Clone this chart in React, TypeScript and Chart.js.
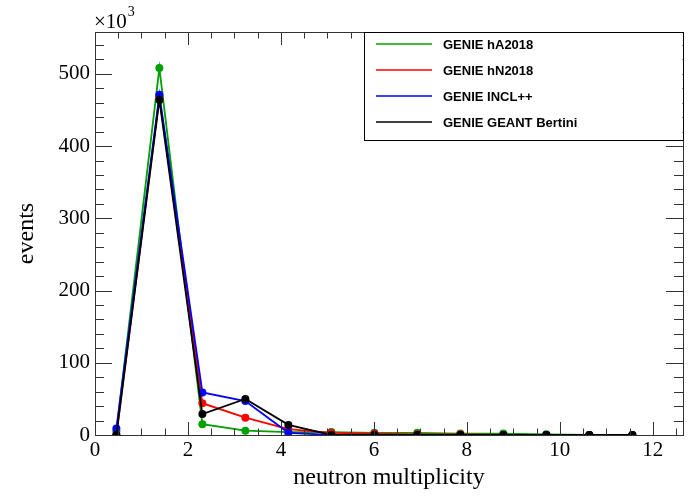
import { useEffect, useRef } from 'react';
import { Chart, registerables } from 'chart.js';

Chart.register(...registerables);

// neutron multiplicity bin centres
const binCenters = [0.46, 1.385, 2.31, 3.235, 4.16, 5.085, 6.01, 6.935, 7.86, 8.785, 9.71, 10.635, 11.56];
// events (x10^3)
const hA2018 = [5, 508, 15, 6, 4, 4, 3, 3, 2, 2, 1, 0, 0];
const hN2018 = [0, 468, 44, 24, 8, 3, 2, 1, 1, 0, 0, 0, 0];
const inclpp = [9, 471, 59, 47, 3, 0, 0, 0, 0, 0, 0, 0, 0];
const bertini = [0, 464, 29, 50, 14, 0, 0, 0, 0, 0, 0, 0, 0];

const seriesNames = ['GENIE hA2018', 'GENIE hN2018', 'GENIE INCL++', 'GENIE GEANT Bertini'];
const seriesColors = ['#00a000', '#ff0000', '#0000ff', '#000000'];
const seriesValues = [hA2018, hN2018, inclpp, bertini];

const xTickLabels = [0, 2, 4, 6, 8, 10, 12];
const yTickLabels = [0, 100, 200, 300, 400, 500];

const xMin = 0;
const xMax = 12.65;
const yMin = 0;
const yMax = 558;
const xMajorStep = 2;
const xMinorStep = 0.5;
const yMajorStep = 100;
const yMinorStep = 20;

const xTitle = 'neutron multiplicity';
const yTitle = 'events';

const SERIF = '"Liberation Serif", "DejaVu Serif", serif';
const SANS = '"Liberation Sans", Arial, sans-serif';

const framePlugin = {
  id: 'rootFrame',
  afterDraw(chart: any) {
    const { ctx, chartArea, scales } = chart;
    const { left, right, top, bottom } = chartArea;
    const x = scales.x;
    const y = scales.y;
    ctx.save();
    ctx.strokeStyle = '#333';
    ctx.lineWidth = 1;
    ctx.strokeRect(Math.round(left) + 0.5, Math.round(top) + 0.5, Math.round(right - left), Math.round(bottom - top));
    ctx.beginPath();
    for (let v = xMin; v <= xMax + 1e-9; v += xMinorStep) {
      const px = Math.round(x.getPixelForValue(v)) + 0.5;
      const major = Math.abs(v / xMajorStep - Math.round(v / xMajorStep)) < 1e-6;
      const len = major ? 13 : 6.5;
      ctx.moveTo(px, bottom);
      ctx.lineTo(px, bottom - len);
      ctx.moveTo(px, top);
      ctx.lineTo(px, top + len);
    }
    for (let v = yMin; v <= yMax + 1e-9; v += yMinorStep) {
      const py = Math.round(y.getPixelForValue(v)) + 0.5;
      const major = Math.abs(v / yMajorStep - Math.round(v / yMajorStep)) < 1e-6;
      const len = major ? 17 : 9;
      ctx.moveTo(left, py);
      ctx.lineTo(left + len, py);
      ctx.moveTo(right, py);
      ctx.lineTo(right - len, py);
    }
    ctx.stroke();

    // exponent label
    ctx.fillStyle = '#000';
    ctx.textBaseline = 'alphabetic';
    ctx.textAlign = 'left';
    ctx.font = `21px ${SERIF}`;
    const base = '\u00d710';
    ctx.fillText(base, left - 1, 28);
    const w = ctx.measureText(base).width;
    ctx.font = `14px ${SERIF}`;
    ctx.fillText('3', left - 1 + w + 1, 16);

    // legend box
    const lx0 = 364;
    const ly1 = 140;
    ctx.fillStyle = '#fff';
    ctx.fillRect(lx0 + 0.5, top + 1, right - lx0 - 1, ly1 - top - 1);
    ctx.strokeStyle = '#000';
    ctx.strokeRect(lx0 + 0.5, Math.round(top) + 0.5, Math.round(right) - lx0, ly1 - Math.round(top));
    ctx.font = `bold 13px ${SANS}`;
    ctx.textBaseline = 'middle';
    seriesNames.forEach((name, i) => {
      const ry = 44 + i * 26;
      ctx.strokeStyle = seriesColors[i];
      ctx.lineWidth = 1.5;
      ctx.beginPath();
      ctx.moveTo(376, ry);
      ctx.lineTo(432, ry);
      ctx.stroke();
      ctx.fillStyle = '#000';
      ctx.fillText(name, 443, ry + 1);
    });
    ctx.restore();
  },
};

export default function App() {
  const canvasRef = useRef<HTMLCanvasElement | null>(null);

  useEffect(() => {
    document.body.style.margin = '0';
    const canvas = canvasRef.current;
    if (!canvas) return;
    const datasets = seriesValues.map((vals, i) => ({
      label: seriesNames[i],
      data: binCenters.map((xv, j) => ({ x: xv, y: vals[j] })),
      borderColor: seriesColors[i],
      backgroundColor: seriesColors[i],
      pointBackgroundColor: seriesColors[i],
      pointBorderColor: seriesColors[i],
      pointRadius: 4,
      pointBorderWidth: 0,
      borderWidth: 1.8,
      tension: 0,
      fill: false,
      order: seriesValues.length - i,
    }));
    const chart = new Chart(canvas, {
      type: 'line',
      data: { datasets },
      options: {
        animation: false,
        responsive: false,
        devicePixelRatio: 1,
        layout: { padding: { top: 32, right: 5, left: 0, bottom: 0 } },
        plugins: { legend: { display: false }, tooltip: { enabled: false } },
        scales: {
          x: {
            type: 'linear',
            min: xMin,
            max: xMax,
            grid: { display: false, drawTicks: false },
            border: { display: false },
            afterBuildTicks: (s: any) => {
              s.ticks = xTickLabels.map((v) => ({ value: v }));
            },
            ticks: {
              padding: 3,
              color: '#000',
              maxRotation: 0,
              autoSkip: false,
              font: { family: SERIF, size: 21 },
            },
            title: {
              display: true,
              text: xTitle,
              color: '#000',
              font: { family: SERIF, size: 24 },
              padding: { top: 0, bottom: 7 },
            },
            afterFit: (s: any) => {
              s.height = 64;
            },
          },
          y: {
            type: 'linear',
            min: yMin,
            max: yMax,
            grid: { display: false, drawTicks: false },
            border: { display: false },
            afterBuildTicks: (s: any) => {
              s.ticks = yTickLabels.map((v) => ({ value: v }));
            },
            ticks: {
              padding: 5,
              color: '#000',
              autoSkip: false,
              font: { family: SERIF, size: 21 },
            },
            title: {
              display: true,
              text: yTitle,
              color: '#000',
              font: { family: SERIF, size: 24 },
              padding: { top: 12, bottom: 0 },
            },
            afterFit: (s: any) => {
              s.width = 95;
            },
          },
        },
      },
      plugins: [framePlugin],
    });
    return () => chart.destroy();
  }, []);

  return (
    <div style={{ width: 688, height: 499, background: '#fff' }}>
      <canvas ref={canvasRef} width={688} height={499} style={{ display: 'block', width: 688, height: 499 }} />
    </div>
  );
}
